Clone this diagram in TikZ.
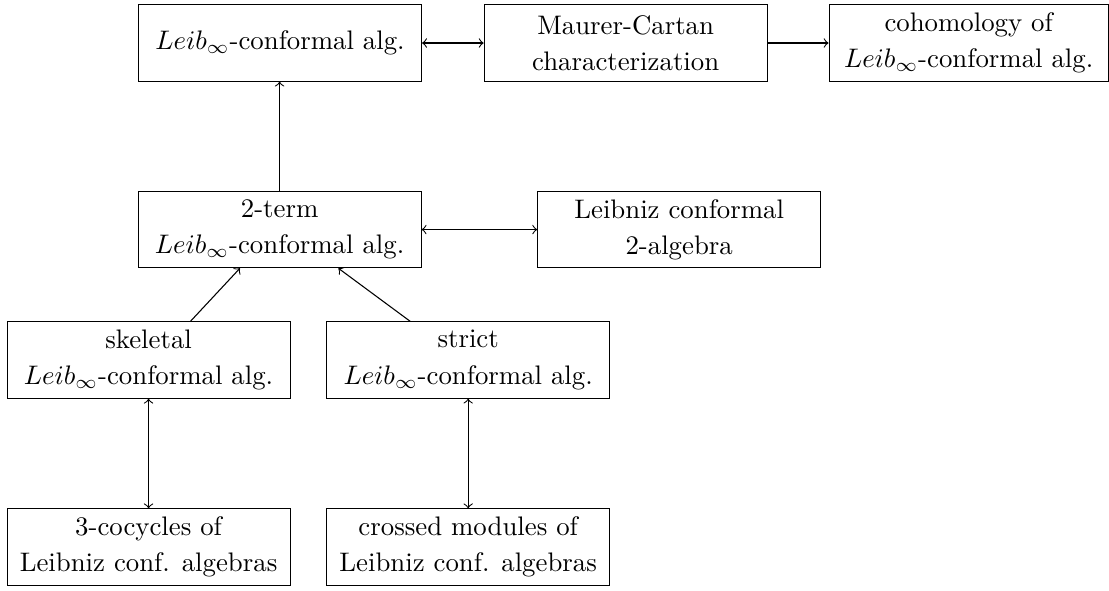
\documentclass[tikz,border=0pt]{standalone}
\usepackage{amsmath,amssymb}

\begin{document}
\begin{tikzpicture}[box/.style={draw, align=center, minimum width=3.71cm, minimum height=1cm, inner sep=3pt}]

    \useasboundingbox (0,0) rectangle (14.54,-7.74);

    %top row
    \node[box] (linf) at (3.672,-0.564) {$Leib_\infty$-conformal alg.};
    \node[box] (mc) at (8.203,-0.564) {Maurer-Cartan\\[1.5pt] characterization};
    \node[box, minimum width=3.66cm] (coh) at (12.70,-0.564) {cohomology of\\[1.5pt] $Leib_\infty$-conformal alg.};

    %2-term
    \node[box] (twot) at (3.666,-3.01) {2-term\\[1.5pt] $Leib_\infty$-conformal alg.};
    \node[box] (twoalg) at (8.905,-3.01) {Leibniz conformal\\[1.5pt] 2-algebra};

    %skeletal, strict
    \node[box] (skel) at (1.948,-4.72) {skeletal\\[1.5pt] $Leib_\infty$-conformal alg.};
    \node[box] (strict) at (6.138,-4.72) {strict\\[1.5pt] $Leib_\infty$-conformal alg.};

    %bottom row
    \node[box] (cocyc) at (1.948,-7.174) {3-cocycles of\\[1.5pt] Leibniz conf. algebras};
    \node[box] (crossed) at (6.138,-7.174) {crossed modules of\\[1.5pt] Leibniz conf. algebras};

    %arrows
    \draw[<->] (linf.east) -- (mc.west);
    \draw[->] (mc.east) -- (mc.east -| coh.west);
    \draw[->] (twot.north) -- (twot.north |- linf.south);
    \draw[<->] (twot.east) -- (twoalg.west);
    \draw[->] ([xshift=0.55cm]skel.north) -- ([xshift=-0.52cm]twot.south);
    \draw[->] ([xshift=-0.76cm]strict.north) -- ([xshift=0.77cm]twot.south);
    \draw[<->] (skel.south) -- (cocyc.north);
    \draw[<->] (strict.south) -- (crossed.north);

\end{tikzpicture}
\end{document}
